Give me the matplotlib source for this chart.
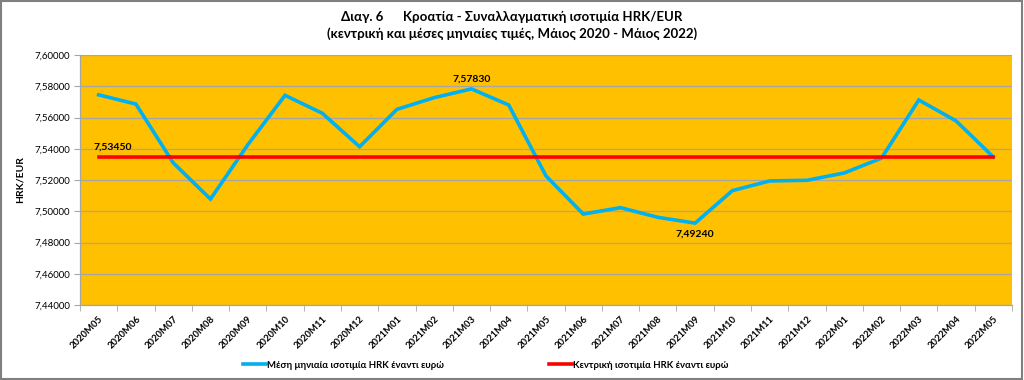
import matplotlib
matplotlib.use("Agg")
import matplotlib.pyplot as plt
from matplotlib.ticker import FuncFormatter, FixedLocator
from matplotlib.patches import Rectangle

months = ["2020M05","2020M06","2020M07","2020M08","2020M09","2020M10","2020M11","2020M12",
          "2021M01","2021M02","2021M03","2021M04","2021M05","2021M06","2021M07","2021M08",
          "2021M09","2021M10","2021M11","2021M12","2022M01","2022M02","2022M03","2022M04","2022M05"]
monthly = [7.5745, 7.5686, 7.5310, 7.5078, 7.5425, 7.5742, 7.5627, 7.5413,
           7.5652, 7.5727, 7.5783, 7.5680, 7.5226, 7.4982, 7.5023, 7.4961,
           7.4924, 7.5132, 7.5194, 7.5198, 7.5245, 7.5340, 7.5712, 7.5578, 7.5347]
central = [7.5345] * len(months)

title1 = "Διαγ. 6      Κροατία - Συναλλαγματική ισοτιμία HRK/EUR"
title2 = "(κεντρική και μέσες μηνιαίες τιμές, Μάιος 2020 - Μάιος 2022)"
ylabel = "HRK/EUR"
leg_monthly = "Μέση μηνιαία ισοτιμία HRK έναντι ευρώ"
leg_central = "Κεντρική ισοτιμία HRK έναντι ευρώ"

plt.rcParams['font.family'] = ['Lato', 'DejaVu Sans']

fig = plt.figure(figsize=(10.24, 3.8), dpi=100)
ax = fig.add_axes([80/1024, 1-305/380, 932/1024, 250/380])
ax.set_facecolor("#FFC000")

x = list(range(len(months)))
ax.plot(x, monthly, color="#00B0F0", lw=2.6, label=leg_monthly, zorder=3, solid_joinstyle='miter')
ax.plot(x, central, color="#FF0000", lw=2.6, label=leg_central, zorder=3)

ax.set_xlim(-0.5, len(months)-0.5)
ax.set_ylim(7.44, 7.60)
yt = [7.44 + 0.02*i for i in range(9)]
ax.set_yticks(yt)
ax.yaxis.set_major_formatter(FuncFormatter(lambda v, p: f"{v:.5f}".replace(".", ",")))
ax.grid(axis='y', color="#A6A6A6", lw=0.9, zorder=1)
ax.set_axisbelow(True)

ax.set_xticks(x)
ax.set_xticklabels(months, rotation=45, ha='right', rotation_mode='anchor', fontsize=6.8, fontweight='bold')
ax.tick_params(axis='x', length=0, pad=7)
ax.xaxis.set_minor_locator(FixedLocator([i-0.5 for i in range(len(months)+1)]))
ax.tick_params(axis='x', which='minor', length=4, color="#A6A6A6")
ax.tick_params(axis='y', labelsize=7, length=4, color="#A6A6A6", pad=3)

for s in ['top', 'right']:
    ax.spines[s].set_visible(False)
for s in ['left', 'bottom']:
    ax.spines[s].set_color("#A6A6A6")
    ax.spines[s].set_linewidth(0.9)

ax.set_ylabel(ylabel, fontsize=7.5, fontweight='bold')
ax.yaxis.set_label_coords((25-80)/932, 0.5)

# data labels
ax.annotate(f"{central[0]:.5f}".replace(".", ","), (x[0], central[0]), xytext=(-4, 4),
            textcoords='offset points', ha='left', va='bottom', fontsize=7.5, fontweight='bold')
imax = monthly.index(max(monthly))
ax.annotate(f"{monthly[imax]:.5f}".replace(".", ","), (x[imax], monthly[imax]), xytext=(0, 4),
            textcoords='offset points', ha='center', va='bottom', fontsize=7.5, fontweight='bold')
imin = monthly.index(min(monthly))
ax.annotate(f"{monthly[imin]:.5f}".replace(".", ","), (x[imin], monthly[imin]), xytext=(0, -5),
            textcoords='offset points', ha='center', va='top', fontsize=7.5, fontweight='bold')

fig.text(0.5, 1-17/380, title1, ha='center', va='center', fontsize=9.5, fontweight='bold')
fig.text(0.5, 1-34/380, title2, ha='center', va='center', fontsize=9.5, fontweight='bold')

leg = fig.legend(loc='center', bbox_to_anchor=(486/1024, 1-365/380), ncol=2, frameon=False,
                 prop={'size': 6.9, 'weight': 'bold'}, handlelength=2.4, handletextpad=0.1,
                 columnspacing=11)

fig.patches.append(Rectangle((0.001, 0.002), 0.997, 0.995, transform=fig.transFigure,
                             fill=False, edgecolor="#808080", lw=1.5))

fig.savefig("out.png", dpi=100, facecolor="white")
